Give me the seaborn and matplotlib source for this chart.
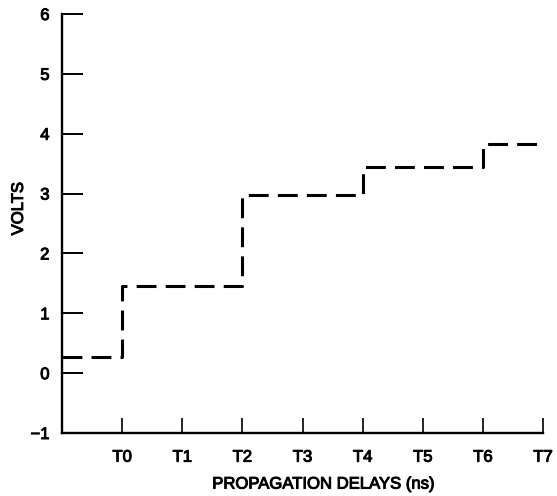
import matplotlib
matplotlib.use("Agg")
import matplotlib.pyplot as plt
import matplotlib.patheffects as pe
import seaborn as sns
import pandas as pd

# Data
step_x = [-1, 0, 2, 4, 6, 7]          # T0 = 0 ... T7 = 7
volts = [0.27, 1.45, 2.98, 3.45, 3.82, 3.82]
x_ticks = [0, 1, 2, 3, 4, 5, 6, 7]
x_tick_labels = ["T0", "T1", "T2", "T3", "T4", "T5", "T6", "T7"]
y_ticks = [-1, 0, 1, 2, 3, 4, 5, 6]

sns.set_style("ticks")
plt.rcParams["font.family"] = ["Liberation Sans", "DejaVu Sans"]

df = pd.DataFrame({"t": step_x, "v": volts})

fig = plt.figure(figsize=(5.57, 4.96), dpi=100)
ax = fig.add_axes([62 / 557, 1 - 433 / 496, (543 - 62) / 557, (433 - 14) / 496])

sns.lineplot(data=df, x="t", y="v", ax=ax, color="black", linewidth=2.2,
             drawstyle="steps-post", sort=True)
ax.lines[0].set_dashes((6.5, 3))

ax.set_xlim(-1, 7)
ax.set_ylim(-1, 6)
ax.set_xticks(x_ticks)
ax.set_xticklabels(x_tick_labels)
ax.set_yticks(y_ticks)
ax.set_yticklabels(["\u22121", "0", "1", "2", "3", "4", "5", "6"])

for s in ["top", "right"]:
    ax.spines[s].set_visible(False)
for s in ["left", "bottom"]:
    ax.spines[s].set_linewidth(1.7)
    ax.spines[s].set_color("black")

ax.tick_params(axis="y", direction="in", length=15, width=1.4, labelsize=12,
               pad=9, colors="black")
ax.tick_params(axis="x", direction="in", length=11, width=1.2, labelsize=12,
               pad=12, colors="black")

ax.set_xlabel("PROPAGATION DELAYS (ns)", fontsize=12, color="black")
ax.set_ylabel("VOLTS", fontsize=12, color="black")
ax.xaxis.set_label_coords(0.543, -0.104)
ax.yaxis.set_label_coords(-0.075, 0.535)

heavy = [pe.withStroke(linewidth=0.7, foreground="black")]
for t in ax.get_xticklabels() + ax.get_yticklabels() + [ax.xaxis.label, ax.yaxis.label]:
    t.set_path_effects(heavy)

fig.savefig("out.png", dpi=100)
